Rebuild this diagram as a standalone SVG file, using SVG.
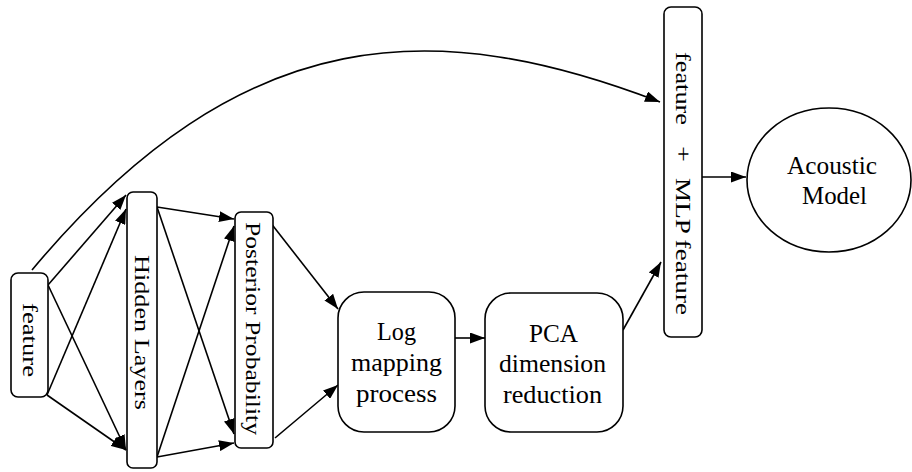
<svg xmlns="http://www.w3.org/2000/svg" width="912" height="472" viewBox="0 0 912 472">
  <style>
    .box { fill: #ffffff; stroke: #000000; stroke-width: 1.6; }
    .lbl { font-family: "Liberation Serif", "Times New Roman", serif; fill: #000000; }
    .h { font-size: 25px; }
    .v { font-size: 22px; }
    .wire { fill: none; stroke: #000000; stroke-width: 1.6; }
  </style>
  <defs>
    <marker id="arrow" markerUnits="userSpaceOnUse" markerWidth="15" markerHeight="11" refX="15" refY="5.5" orient="auto">
      <path d="M0,0 L15,5.5 L0,11 z" fill="#000000"/>
    </marker>
  </defs>
  <rect width="912" height="472" fill="#ffffff"/>

  <!-- connectors -->
  <g id="connectors" class="wire" marker-end="url(#arrow)">
    <!-- input feature bypass to the combined feature -->
    <path d="M32,270 C245,15 440,18 660,102"/>
    <!-- input to hidden layers -->
    <line x1="48" y1="285" x2="126" y2="195"/>
    <line x1="48" y1="285" x2="126" y2="450"/>
    <line x1="47" y1="395" x2="126" y2="209"/>
    <line x1="47" y1="395" x2="126" y2="450"/>
    <!-- hidden layers to posterior -->
    <line x1="157" y1="207" x2="234" y2="219"/>
    <line x1="157" y1="207" x2="234" y2="434"/>
    <line x1="157" y1="457" x2="234" y2="226"/>
    <line x1="157" y1="457" x2="234" y2="443"/>
    <!-- posterior to log mapping -->
    <line x1="270" y1="222" x2="338" y2="309"/>
    <line x1="275" y1="438" x2="338" y2="385"/>
    <!-- log mapping to PCA -->
    <line x1="455" y1="338" x2="485" y2="338"/>
    <!-- PCA to combined feature -->
    <line x1="623" y1="330" x2="661" y2="262"/>
    <!-- combined feature to acoustic model -->
    <line x1="702" y1="177" x2="746" y2="177"/>
  </g>

  <g id="feature">
    <rect class="box" x="11" y="273" width="37" height="124" rx="7"/>
    <text class="lbl v" transform="translate(23,303) rotate(90)" x="0" y="0" textLength="74" lengthAdjust="spacingAndGlyphs">feature</text>
  </g>

  <g id="hidden-layers">
    <rect class="box" x="127" y="192" width="30" height="276" rx="6"/>
    <text class="lbl v" transform="translate(135,255) rotate(90)" x="0" y="0" textLength="155" lengthAdjust="spacingAndGlyphs">Hidden Layers</text>
  </g>

  <g id="posterior-probability">
    <rect class="box" x="235" y="212" width="38" height="236" rx="6"/>
    <text class="lbl v" transform="translate(246,222) rotate(90)" x="0" y="0" textLength="213" lengthAdjust="spacingAndGlyphs">Posterior Probability</text>
  </g>

  <g id="log-mapping">
    <rect class="box" x="338" y="292" width="117" height="140" rx="26"/>
    <text class="lbl h" x="377" y="340" textLength="39" lengthAdjust="spacingAndGlyphs">Log</text>
    <text class="lbl h" x="351" y="371" textLength="91" lengthAdjust="spacingAndGlyphs">mapping</text>
    <text class="lbl h" x="356" y="402" textLength="81" lengthAdjust="spacingAndGlyphs">process</text>
  </g>

  <g id="pca">
    <rect class="box" x="485" y="293" width="138" height="139" rx="26"/>
    <text class="lbl h" x="529" y="342" textLength="49" lengthAdjust="spacingAndGlyphs">PCA</text>
    <text class="lbl h" x="499" y="372" textLength="107" lengthAdjust="spacingAndGlyphs">dimension</text>
    <text class="lbl h" x="503" y="403" textLength="99" lengthAdjust="spacingAndGlyphs">reduction</text>
  </g>

  <g id="combined-feature">
    <rect class="box" x="664" y="7" width="38" height="330" rx="7"/>
    <text class="lbl v" transform="translate(676,52) rotate(90)" x="0" y="0" textLength="73" lengthAdjust="spacingAndGlyphs">feature</text>
    <text class="lbl v" transform="translate(676,146) rotate(90)" x="0" y="0" textLength="16" lengthAdjust="spacingAndGlyphs">+</text>
    <text class="lbl v" transform="translate(676,178) rotate(90)" x="0" y="0" textLength="137" lengthAdjust="spacingAndGlyphs">MLP feature</text>
  </g>

  <g id="acoustic-model">
    <ellipse class="box" cx="829" cy="180" rx="82" ry="72"/>
    <text class="lbl h" x="787" y="174" textLength="90" lengthAdjust="spacingAndGlyphs">Acoustic</text>
    <text class="lbl h" x="802" y="204" textLength="65" lengthAdjust="spacingAndGlyphs">Model</text>
  </g>
</svg>
